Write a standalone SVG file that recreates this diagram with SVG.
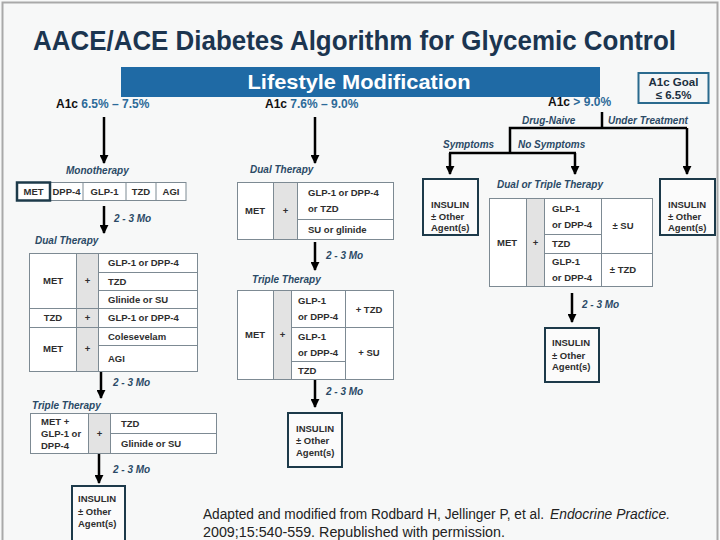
<svg xmlns="http://www.w3.org/2000/svg" width="720" height="540" viewBox="0 0 720 540">
<defs>
<style>
text{font-family:"Liberation Sans",Arial,sans-serif;}
.t{font-size:9.5px;font-weight:bold;fill:#2e2e2e;}
.lab{font-size:10px;font-weight:bold;font-style:italic;fill:#2b4a66;}
.cell{fill:#ffffff;stroke:#7d8a93;stroke-width:1;}
.plus{fill:#e3e3e3;stroke:#7d8a93;stroke-width:1;}
.ln{stroke:#7d8a93;stroke-width:1;fill:none;}
.ins{fill:#fbfbfb;stroke:#1d3a4a;stroke-width:2;}
.arr{stroke:#000;stroke-width:2.5;fill:none;marker-end:url(#ah);}
.br{stroke:#000;stroke-width:2.5;fill:none;}
.a1k{font-size:12px;font-weight:bold;fill:#111;}
.a1v{font-size:12px;fill:#2c6a99;font-weight:bold;}
.cit{font-size:14px;fill:#222;}
</style>
<marker id="ah" viewBox="0 0 10 10" refX="9" refY="5" markerWidth="9" markerHeight="9" markerUnits="userSpaceOnUse" orient="auto">
<path d="M0,0 L10,5 L0,10 z" fill="#000"/>
</marker>
</defs>
<rect x="0" y="0" width="720" height="540" fill="#f7f8f8"/>
<rect x="2.5" y="2.5" width="715" height="540" fill="none" stroke="#a9a9a9" stroke-width="2"/>

<g id="title">
<text x="33" y="50" font-size="27" font-weight="bold" fill="#1b3550" textLength="643" lengthAdjust="spacingAndGlyphs">AACE/ACE Diabetes Algorithm for Glycemic Control</text>
</g>

<g id="lifestyle">
<rect x="121" y="67" width="479" height="30" fill="#1f6aa5"/>
<text x="359" y="89" font-size="21" font-weight="bold" fill="#ffffff" text-anchor="middle" textLength="223" lengthAdjust="spacingAndGlyphs">Lifestyle Modification</text>
</g>

<g id="goal">
<rect x="638.5" y="73" width="70" height="30" fill="#f4f6f7" stroke="#2a6a8e" stroke-width="2"/>
<text x="673.5" y="86" font-size="11.5" font-weight="bold" fill="#1b2f40" text-anchor="middle">A1c Goal</text>
<text x="673.5" y="99" font-size="11.5" font-weight="bold" fill="#1b2f40" text-anchor="middle">≤ 6.5%</text>
</g>

<g id="a1c-labels">
<text x="56" y="108" class="a1k">A1c <tspan class="a1v">6.5% – 7.5%</tspan></text>
<text x="265" y="108" class="a1k">A1c <tspan class="a1v">7.6% – 9.0%</tspan></text>
<text x="548" y="106" class="a1k">A1c <tspan class="a1v">&gt; 9.0%</tspan></text>
</g>

<g id="connectors">
<line x1="104" y1="117" x2="104" y2="163" class="arr"/>
<line x1="315" y1="117" x2="315" y2="163" class="arr"/>
<line x1="104" y1="206" x2="104" y2="233" class="arr"/>
<line x1="101" y1="372" x2="101" y2="398" class="arr"/>
<line x1="99" y1="454" x2="99" y2="483" class="arr"/>
<line x1="315" y1="242" x2="315" y2="270" class="arr"/>
<line x1="315" y1="380" x2="315" y2="407" class="arr"/>
<line x1="572" y1="293" x2="572" y2="322" class="arr"/>
<line x1="602" y1="112" x2="602" y2="128" class="br"/>
<polyline points="510,153 510,128 687,128" class="br"/>
<line x1="687" y1="128" x2="687" y2="174" class="arr"/>
<line x1="449" y1="153" x2="576" y2="153" class="br"/>
<line x1="450" y1="153" x2="450" y2="174" class="arr"/>
<line x1="575" y1="153" x2="575" y2="174" class="arr"/>
</g>

<g id="labels">
<text x="66" y="174" class="lab">Monotherapy</text>
<text x="114" y="222" class="lab">2 - 3 Mo</text>
<text x="35" y="244" class="lab">Dual Therapy</text>
<text x="113" y="386" class="lab">2 - 3 Mo</text>
<text x="32" y="409" class="lab">Triple Therapy</text>
<text x="113" y="473" class="lab">2 - 3 Mo</text>
<text x="250" y="173" class="lab">Dual Therapy</text>
<text x="326" y="259" class="lab">2 - 3 Mo</text>
<text x="252" y="283" class="lab">Triple Therapy</text>
<text x="326" y="395" class="lab">2 - 3 Mo</text>
<text x="522" y="124" class="lab">Drug-Naive</text>
<text x="608" y="124" class="lab">Under Treatment</text>
<text x="443" y="148" class="lab">Symptoms</text>
<text x="518" y="148" class="lab">No Symptoms</text>
<text x="497" y="188" class="lab">Dual or Triple Therapy</text>
<text x="582" y="308" class="lab">2 - 3 Mo</text>
</g>

<g id="mono">
<rect x="50" y="182.5" width="136" height="18" class="cell"/>
<path d="M83,182.5 V200.5 M126,182.5 V200.5 M156,182.5 V200.5" class="ln"/>
<rect x="17" y="182.5" width="33" height="18" fill="#ffffff" stroke="#1d3a4a" stroke-width="2.5"/>
<text x="33.5" y="195" class="t" text-anchor="middle">MET</text>
<text x="66.5" y="195" class="t" text-anchor="middle">DPP-4</text>
<text x="104.5" y="195" class="t" text-anchor="middle">GLP-1</text>
<text x="141" y="195" class="t" text-anchor="middle">TZD</text>
<text x="171" y="195" class="t" text-anchor="middle">AGI</text>
</g>

<g id="dual-left">
<rect x="29.5" y="253.5" width="168" height="118" class="cell"/>
<rect x="76.5" y="253.5" width="22" height="118" class="plus"/>
<path d="M98.5,272.5 H197.5 M98.5,290.5 H197.5 M29.5,308.5 H197.5 M29.5,327.5 H197.5 M98.5,345.5 H197.5" class="ln"/>
<text x="53" y="284" class="t" text-anchor="middle">MET</text>
<text x="87.5" y="284" class="t" text-anchor="middle">+</text>
<text x="108" y="266" class="t">GLP-1 or DPP-4</text>
<text x="108" y="285" class="t">TZD</text>
<text x="108" y="303" class="t">Glinide  or SU</text>
<text x="53" y="321" class="t" text-anchor="middle">TZD</text>
<text x="87.5" y="321" class="t" text-anchor="middle">+</text>
<text x="108" y="321" class="t">GLP-1 or DPP-4</text>
<text x="53" y="352" class="t" text-anchor="middle">MET</text>
<text x="87.5" y="352" class="t" text-anchor="middle">+</text>
<text x="108" y="340" class="t">Colesevelam</text>
<text x="108" y="362" class="t">AGI</text>
</g>

<g id="triple-left">
<rect x="30.5" y="413.5" width="186" height="40" class="cell"/>
<rect x="88.5" y="413.5" width="22" height="40" class="plus"/>
<path d="M110.5,433.5 H216.5" class="ln"/>
<text x="41" y="425" class="t">MET +</text>
<text x="41" y="437" class="t">GLP-1 or</text>
<text x="41" y="449" class="t">DPP-4</text>
<text x="99.5" y="437" class="t" text-anchor="middle">+</text>
<text x="121" y="427" class="t">TZD</text>
<text x="121" y="447" class="t">Glinide  or SU</text>
</g>

<g id="insulin-left">
<rect x="72" y="486" width="53" height="60" class="ins"/>
<text x="78" y="502" class="t">INSULIN</text>
<text x="78" y="515" class="t">± Other</text>
<text x="78" y="527" class="t">Agent(s)</text>
</g>

<g id="dual-mid">
<rect x="237.5" y="182.5" width="156" height="57" class="cell"/>
<rect x="273.5" y="182.5" width="24" height="57" class="plus"/>
<path d="M297.5,219.5 H393.5" class="ln"/>
<text x="255" y="214" class="t" text-anchor="middle">MET</text>
<text x="285.5" y="214" class="t" text-anchor="middle">+</text>
<text x="308" y="196" class="t">GLP-1 or DPP-4</text>
<text x="308" y="212" class="t">or TZD</text>
<text x="308" y="233" class="t">SU or glinide</text>
</g>

<g id="triple-mid">
<rect x="237.5" y="290.5" width="156" height="89" class="cell"/>
<rect x="273.5" y="290.5" width="18" height="89" class="plus"/>
<path d="M345.5,290.5 V379.5 M291.5,327.5 H393.5 M291.5,361.5 H345.5" class="ln"/>
<text x="255" y="338" class="t" text-anchor="middle">MET</text>
<text x="282.5" y="338" class="t" text-anchor="middle">+</text>
<text x="298" y="304" class="t">GLP-1</text>
<text x="298" y="320" class="t">or DPP-4</text>
<text x="369" y="313" class="t" text-anchor="middle">+ TZD</text>
<text x="298" y="340" class="t">GLP-1</text>
<text x="298" y="356" class="t">or DPP-4</text>
<text x="369" y="356" class="t" text-anchor="middle">+ SU</text>
<text x="298" y="374" class="t">TZD</text>
</g>

<g id="insulin-mid">
<rect x="288" y="413" width="54" height="54" class="ins"/>
<text x="296" y="432" class="t">INSULIN</text>
<text x="296" y="444" class="t">± Other</text>
<text x="296" y="456" class="t">Agent(s)</text>
</g>

<g id="insulin-symptoms">
<rect x="423" y="179" width="55" height="56" class="ins"/>
<text x="431" y="208" class="t">INSULIN</text>
<text x="431" y="220" class="t">± Other</text>
<text x="431" y="231" class="t">Agent(s)</text>
</g>

<g id="insulin-treatment">
<rect x="660" y="179" width="55" height="56" class="ins"/>
<text x="668" y="208" class="t">INSULIN</text>
<text x="668" y="220" class="t">± Other</text>
<text x="668" y="231" class="t">Agent(s)</text>
</g>

<g id="dual-triple-right">
<rect x="489.5" y="198.5" width="163" height="88" class="cell"/>
<rect x="526.5" y="198.5" width="18" height="88" class="plus"/>
<path d="M601.5,198.5 V286.5 M544.5,234.5 H601.5 M544.5,253.5 H652.5" class="ln"/>
<text x="507" y="246" class="t" text-anchor="middle">MET</text>
<text x="535.5" y="246" class="t" text-anchor="middle">+</text>
<text x="552" y="212" class="t">GLP-1</text>
<text x="552" y="228" class="t">or DPP-4</text>
<text x="552" y="247" class="t">TZD</text>
<text x="552" y="265" class="t">GLP-1</text>
<text x="552" y="281" class="t">or DPP-4</text>
<text x="623" y="229" class="t" text-anchor="middle">±  SU</text>
<text x="623" y="273" class="t" text-anchor="middle">± TZD</text>
</g>

<g id="insulin-right">
<rect x="545" y="328" width="54" height="54" class="ins"/>
<text x="552" y="346" class="t">INSULIN</text>
<text x="552" y="359" class="t">± Other</text>
<text x="552" y="370" class="t">Agent(s)</text>
</g>

<g id="citation">
<text x="203" y="519" class="cit" textLength="341" lengthAdjust="spacingAndGlyphs">Adapted and modified from Rodbard H, Jellinger P, et al.</text>
<text x="550" y="519" class="cit" font-style="italic" textLength="120" lengthAdjust="spacingAndGlyphs">Endocrine Practice.</text>
<text x="203" y="537" class="cit" textLength="302" lengthAdjust="spacingAndGlyphs">2009;15:540-559. Republished with permission.</text>
</g>
</svg>
